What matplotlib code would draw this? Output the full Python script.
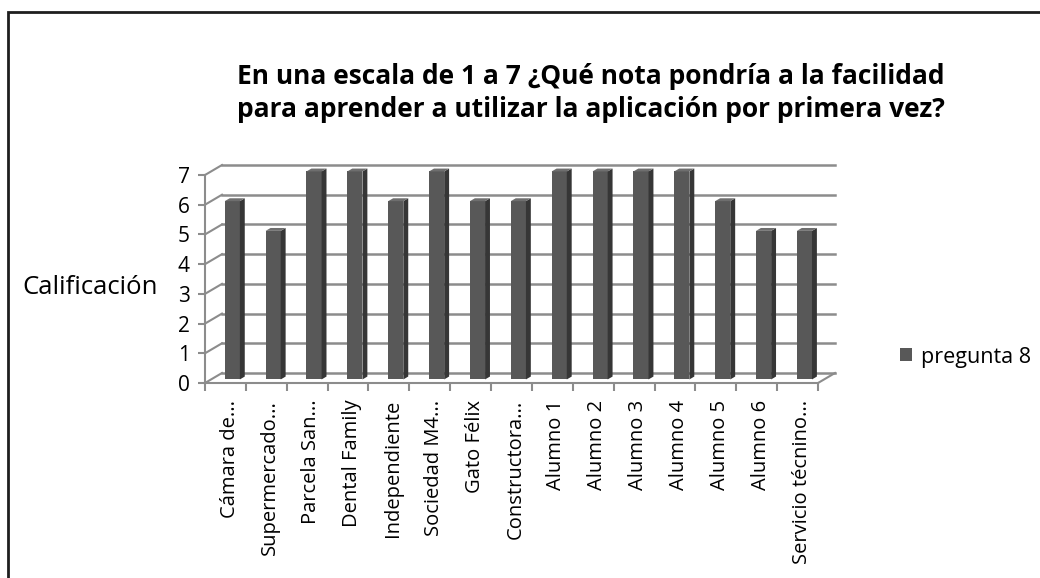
import numpy as np
import matplotlib
matplotlib.use("Agg")
import matplotlib.pyplot as plt
from matplotlib.patches import Polygon, Rectangle

plt.rcParams['font.family'] = ['Open Sans', 'DejaVu Sans']

# datos
categorias = ["Cámara de...", "Supermercado...", "Parcela San...", "Dental Family",
              "Independiente", "Sociedad M4...", "Gato Félix", "Constructora...",
              "Alumno 1", "Alumno 2", "Alumno 3", "Alumno 4", "Alumno 5",
              "Alumno 6", "Servicio técnino..."]
notas = [6, 5, 7, 7, 6, 7, 6, 6, 7, 7, 7, 7, 6, 5, 5]
niveles = [0, 1, 2, 3, 4, 5, 6, 7]
serie = "pregunta 8"
titulo = ("En una escala de 1 a 7 ¿Qué nota pondría a la facilidad\n"
          "para aprender a utilizar la aplicación por primera vez?")

W, H = 1040, 578
fig = plt.figure(figsize=(W / 100, H / 100), dpi=100)

# marco de la imagen (solo lados izquierdo y superior visibles)
fig.patches.append(Rectangle((8 / W, -0.1), 1.2, 1.1 - 12 / H, transform=fig.transFigure,
                             fill=False, edgecolor='#1e1e1e', linewidth=2))

ax = fig.add_axes([205 / W, (H - 383) / H, 613 / W, 208 / H])
n = len(categorias)
ax.set_xlim(0, n)
ax.set_ylim(0, 7)

# profundidad "3D" en unidades de datos
DX = 17 / (613 / n)
DY = 10 / (208 / 7)
grid_col = '#8c8c8c'

# pared del fondo: lineas de division y diagonales al eje frontal
for v in niveles:
    ax.plot([DX, n + DX], [v + DY, v + DY], color=grid_col, lw=1.8, clip_on=False, zorder=1)
    ax.plot([0, DX], [v, v + DY], color=grid_col, lw=1.5, clip_on=False, zorder=1)
ax.plot([n, n + DX], [0, DY], color=grid_col, lw=1.5, clip_on=False, zorder=1)

# barras
x = np.arange(n) + 0.5
ancho = 0.37
sx = 0.12
sy = sx * DY / DX
base = DY / 2 - sy / 2
xc = x + DX / 2 - sx / 2 + 0.02
barras = ax.bar(xc, notas, width=ancho, bottom=base, color='#585858', edgecolor='none',
                zorder=3, clip_on=False, label=serie)
for xi, v in zip(xc, notas):
    xr = xi + ancho / 2
    xl = xi - ancho / 2
    top = base + v
    ax.add_patch(Polygon([[xr, base], [xr + sx, base + sy], [xr + sx, top + sy], [xr, top]],
                         closed=True, facecolor='#363636', edgecolor='none', zorder=3, clip_on=False))
    ax.add_patch(Polygon([[xl, top], [xr, top], [xr + sx, top + sy], [xl + sx, top + sy]],
                         closed=True, facecolor='#6e6e6e', edgecolor='none', zorder=3, clip_on=False))

# ejes
for s in ['top', 'right']:
    ax.spines[s].set_visible(False)
ax.spines['left'].set_color('#8c8c8c')
ax.spines['bottom'].set_color('#8c8c8c')
ax.spines['left'].set_linewidth(1.5)
ax.spines['bottom'].set_linewidth(1.5)
ax.set_facecolor('none')

ax.set_yticks(niveles)
ax.set_yticklabels([str(v) for v in niveles], fontsize=15)
ax.tick_params(axis='y', length=5, width=1.5, color='#8c8c8c', pad=6)

ax.set_xticks(np.arange(n + 1), minor=True)
ax.set_xticks(x + 0.1)
ax.set_xticklabels(categorias, rotation=90, fontsize=14.5)
ax.tick_params(axis='x', which='major', length=0, pad=12)
ax.tick_params(axis='x', which='minor', length=6, width=1.5, color='#8c8c8c')

ax.set_ylabel("Calificación", rotation=0, fontsize=18.5, ha='right', va='center')
ax.yaxis.set_label_coords(-47 / 613, 0.46)

fig.text(591 / W, 1 - 93 / H, titulo, ha='center', va='center', fontsize=19,
         fontweight='bold', linespacing=1.3)

ax.legend(handles=[barras], loc='center left', bbox_to_anchor=(881 / W, 1 - 357 / H),
          bbox_transform=fig.transFigure, frameon=False, fontsize=15.5,
          handlelength=0.55, handleheight=0.55, handletextpad=0.4)

fig.savefig("out.png", dpi=100, facecolor='white')
